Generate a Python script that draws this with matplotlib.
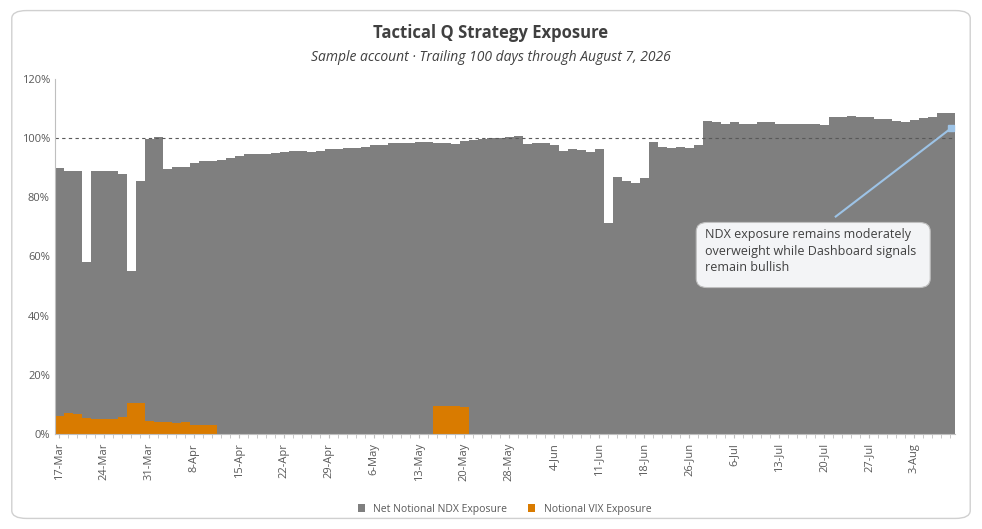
import numpy as np
import pandas as pd
import matplotlib
matplotlib.use("Agg")
from matplotlib import pyplot as plt
from matplotlib.patches import FancyBboxPatch

# trading days, holidays removed
holidays = ["2026-04-03", "2026-05-25", "2026-06-19", "2026-07-03"]
dates = pd.bdate_range("2026-03-17", "2026-08-07")
dates = dates[~dates.isin(pd.to_datetime(holidays))]

ndx = [90.0, 89.0, 89.0, 58.0, 89.0, 88.8, 89.0, 87.8, 55.1, 85.5,
       99.7, 100.5, 89.5, 90.3, 90.3, 91.7, 92.2, 92.3, 92.7, 93.3,
       94.0, 94.5, 94.8, 94.7, 95.0, 95.3, 95.7, 95.6, 95.4, 95.8,
       96.2, 96.5, 96.7, 96.8, 96.9, 97.6, 97.6, 98.5, 98.5, 98.3,
       98.8, 98.8, 98.5, 98.5, 98.0, 99.1, 99.4, 99.6, 100.0, 100.0,
       100.3, 100.7, 98.0, 98.3, 98.3, 97.7, 95.8, 96.3, 96.0, 95.2,
       96.3, 71.2, 87.0, 85.4, 84.7, 86.6, 98.6, 97.1, 96.8, 97.1,
       96.8, 97.7, 105.8, 105.4, 104.7, 105.4, 104.7, 104.7, 105.4, 105.4,
       104.7, 104.9, 104.9, 104.7, 104.7, 104.5, 107.0, 107.0, 107.6, 107.3,
       107.0, 106.5, 106.5, 105.8, 105.4, 106.2, 106.7, 107.3, 108.4, 108.5]

vix_idx = list(range(18)) + [42, 43, 44, 45]
vix_vals = [6.2, 7.2, 6.7, 5.5, 4.9, 5.0, 4.9, 5.7, 10.6, 10.6,
            4.3, 4.0, 4.0, 3.7, 4.0, 3.2, 3.0, 3.0,
            9.6, 9.4, 9.5, 9.0]
vix = np.zeros(len(dates))
vix[vix_idx] = vix_vals

labels = [f"{d.day}-{d.strftime('%b')}" for d in dates]

plt.rcParams['font.family'] = ['Open Sans', 'DejaVu Sans']

fig = plt.figure(figsize=(9.82, 5.29), dpi=100)
frame = FancyBboxPatch((0.012, 0.02), 0.976, 0.96, boxstyle="round,pad=0,rounding_size=0.015",
                       transform=fig.transFigure, fc="white", ec="#d0d0d0", lw=1, zorder=-10)
fig.patches.append(frame)
ax = fig.add_axes([0.0557, 0.1796, 0.9163, 0.6711])
ax.set_facecolor("none")

x = np.arange(len(dates))
ax.bar(x, ndx, width=1.0, color="#7f7f7f", label="Net Notional NDX Exposure")
ax.bar(x, vix, width=1.0, color="#d97b00", label="Notional VIX Exposure")
ax.axhline(100, color="#595959", ls=(0, (3, 3)), lw=0.8)

ax.set_xlim(-0.5, len(dates) - 0.5)
ax.set_ylim(0, 120)
ax.set_yticks(range(0, 121, 20))
ax.set_yticklabels([f"{v}%" for v in range(0, 121, 20)], fontsize=8, color="#595959")
ax.set_xticks(x[::5])
ax.set_xticklabels(labels[::5], rotation=90, fontsize=8, color="#595959")
ax.set_xticks(x, minor=True)
ax.tick_params(axis="x", which="both", length=3, color="#bfbfbf")
ax.tick_params(axis="y", length=0)
for s in ["top", "right"]:
    ax.spines[s].set_visible(False)
ax.spines["left"].set_color("#bfbfbf")
ax.spines["bottom"].set_color("#bfbfbf")

fig.text(0.5, 0.928, "Tactical Q Strategy Exposure", ha="center", fontsize=12, fontweight="bold", color="#404040")
fig.text(0.5, 0.885, "Sample account · Trailing 100 days through August 7, 2026", ha="center",
         fontsize=10, style="italic", color="#404040")

# annotation
ax.plot([86.3, 99.1], [73.5, 103.3], color="#9dc3e6", lw=1.5)
ax.plot([99.1], [103.3], marker="s", ms=4, color="#9dc3e6")
ax.add_patch(FancyBboxPatch((70.8, 49.5), 26.0, 22.0, boxstyle="round,pad=0,rounding_size=1.2",
                            fc="#f3f4f6", ec="#bfbfbf", lw=0.8, zorder=5, mutation_aspect=2.5))
ax.text(71.8, 69.5, "NDX exposure remains moderately\noverweight while Dashboard signals\nremain bullish",
        ha="left", va="top", fontsize=9, color="#404040", zorder=6, linespacing=1.35)

ax.legend(loc="upper center", bbox_to_anchor=(0.5, -0.17), ncol=2, frameon=False, fontsize=7.5,
          handlelength=0.7, handleheight=0.7, labelcolor="#595959", columnspacing=2)

fig.savefig("out.png", dpi=100)
